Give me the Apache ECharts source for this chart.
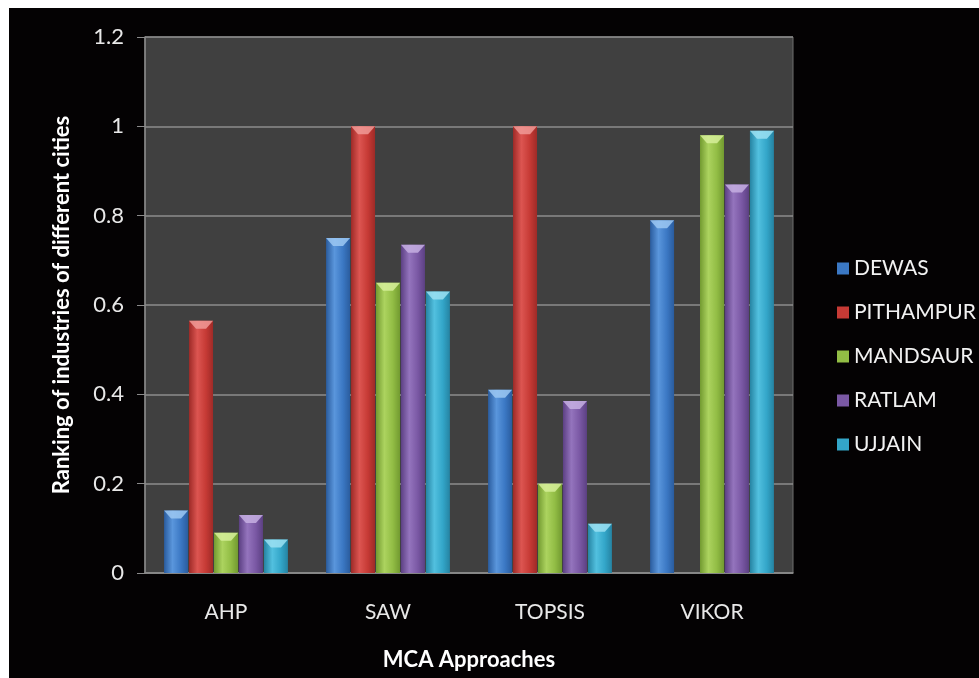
<!DOCTYPE html>
<html>
<head>
<meta charset="utf-8">
<script src="https://cdn.jsdelivr.net/npm/echarts@6/dist/echarts.min.js"></script>
<style>
  html, body { margin: 0; padding: 0; background: #fff; }
  #chart { position: absolute; left: 9px; top: 8px; width: 970px; height: 670px; background: #040203; }
</style>
</head>
<body>
<div id="chart"></div>
<script>
// categories and series values
const approaches = ['AHP', 'SAW', 'TOPSIS', 'VIKOR'];
const cities = ['DEWAS', 'PITHAMPUR', 'MANDSAUR', 'RATLAM', 'UJJAIN'];
const dewas = [0.14, 0.75, 0.41, 0.79];
const pithampur = [0.565, 1.0, 1.0, 0];
const mandsaur = [0.09, 0.65, 0.2, 0.98];
const ratlam = [0.13, 0.735, 0.385, 0.87];
const ujjain = [0.075, 0.63, 0.11, 0.99];
const yTicks = [0, 0.2, 0.4, 0.6, 0.8, 1, 1.2];

const values = [dewas, pithampur, mandsaur, ratlam, ujjain];
// base / light / dark / bevel for each city
const palette = [
  ['#3b78c4', '#5a96dc', '#2a5c9e', '#9cc8f2'],
  ['#c63a35', '#dc5551', '#9e2a27', '#f09a96'],
  ['#92bd45', '#acd35f', '#729a30', '#d6ee9a'],
  ['#7a58a4', '#9474bd', '#5c4083', '#c6afe2'],
  ['#33a6c9', '#52c0df', '#2583a2', '#9be0f2']
];

function barFill(p) {
  return new echarts.graphic.LinearGradient(0, 0, 1, 0, [
    { offset: 0, color: p[2] },
    { offset: 0.35, color: p[1] },
    { offset: 0.7, color: p[0] },
    { offset: 1, color: p[2] }
  ]);
}

const chart = echarts.init(document.getElementById('chart'));

const bars = cities.map((name, i) => ({
  name: name,
  type: 'bar',
  data: values[i],
  barWidth: 24,
  barGap: '4%',
  itemStyle: { color: barFill(palette[i]) }
}));

// the bevelled cap on top of each bar
const caps = cities.map((name, i) => ({
  name: name,
  type: 'pictorialBar',
  data: values[i].map(v => (v > 0 ? v : '-')),
  barWidth: 24,
  barGap: '4%',
  symbol: 'path://M0,0 L24,0 L17,8 L7,8 Z',
  symbolSize: [24, 8],
  symbolPosition: 'end',
  symbolOffset: [0, 0],
  itemStyle: { color: palette[i][3], opacity: 0.85 },
  z: 3,
  silent: true
}));

chart.setOption({
  backgroundColor: '#040203',
  textStyle: { fontFamily: 'Lato' },
  grid: {
    left: 136, top: 29, right: 186, bottom: 105,
    show: true, backgroundColor: '#404040', borderColor: '#6e6e6e', borderWidth: 1
  },
  legend: {
    orient: 'vertical',
    left: 823, top: 245,
    itemWidth: 12, itemHeight: 12, itemGap: 23, itemTextGap: 6,
    icon: 'rect',
    textStyle: { color: '#f2f2f2', fontSize: 21, fontFamily: 'Lato' },
    data: cities.map((c, i) => ({ name: c, itemStyle: { color: palette[i][0] } }))
  },
  xAxis: {
    type: 'category',
    data: approaches,
    name: 'MCA Approaches',
    nameLocation: 'middle',
    nameGap: 76,
    nameTextStyle: { color: '#ffffff', fontSize: 22, fontWeight: 'bold' },
    axisLine: { lineStyle: { color: '#8a8a8a', width: 1.5 } },
    axisTick: { show: false },
    axisLabel: { color: '#e8e8e8', fontSize: 21, margin: 29 }
  },
  yAxis: {
    type: 'value',
    min: 0, max: 1.2, interval: 0.2,
    name: 'Ranking of industries of different cities',
    nameLocation: 'middle',
    nameGap: 72,
    nameTextStyle: { color: '#ffffff', fontSize: 22, fontWeight: 'bold' },
    axisLine: { show: true, lineStyle: { color: '#8a8a8a', width: 1.5 } },
    axisTick: { show: true, length: 8, lineStyle: { color: '#8a8a8a' } },
    splitLine: { lineStyle: { color: '#8c8c8c', width: 1.5 } },
    axisLabel: {
      color: '#e8e8e8', fontSize: 22, margin: 21,
      formatter: v => {
        const t = yTicks.find(k => Math.abs(k - v) < 1e-9);
        return t === undefined ? '' : String(t);
      }
    }
  },
  series: bars.concat(caps)
});
</script>
</body>
</html>
